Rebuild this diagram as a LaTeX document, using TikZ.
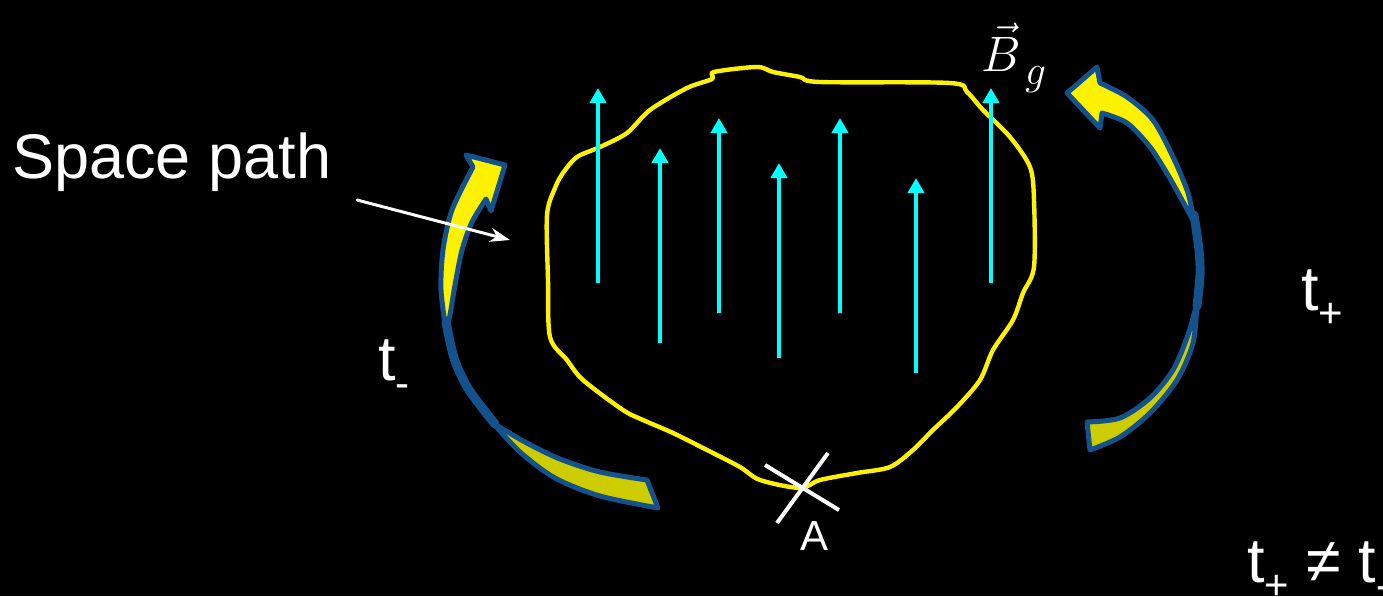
\documentclass[tikz,border=0pt]{standalone}
\usepackage{fontspec}
\setmainfont{Liberation Sans}
\usetikzlibrary{arrows.meta}
\definecolor{bandblue}{RGB}{20,82,142}
\definecolor{darkyel}{RGB}{204,204,0}
\definecolor{fieldcyan}{RGB}{0,255,255}
\newcommand\tsub[1]{\raisebox{-8.5pt}{\fontsize{21}{24}\selectfont #1}}
\begin{document}
\begin{tikzpicture}[x=0.5pt, y=-0.5pt, line join=round, line cap=round, >=Stealth,
	field/.style={fieldcyan, line width=2pt, line cap=butt, -{Triangle[width=8pt,length=7.5pt]}},
	fold/.style={draw=bandblue, line width=2.5pt},
	lbl/.style={text=white, inner sep=0pt, font=\fontsize{31.5}{36}\selectfont}]
	\useasboundingbox (0,0) rectangle (1383,596);
	\fill[black] (0,0) rectangle (1383,596);
	% space path
	\draw[yellow, line width=2.2pt] plot[smooth cycle, tension=0.5] coordinates {(547,215) (555,188) (563,173) (577,157) (600,147) (627,133) (650,110) (687,88) (712,79) (714,72) (757,67) (773,72) (800,77) (820,82) (950,83) (967,92) (983,110) (1010,137) (1030,167) (1034,200) (1034,267) (1023,293) (1013,320) (993,350) (980,380) (957,407) (933,430) (913,450) (890,467) (857,473) (820,480) (800,488) (760,480) (740,467) (707,450) (673,433) (643,420) (623,410) (583,380) (567,360) (550,337) (548,280)};
	% field lines
	\foreach \x/\y in {598/88, 660/148, 719/118, 779/163, 840/118, 916/178, 991/88}
		\draw[field] (\x,\y+195) -- (\x,\y);
	% left curved arrow
	\draw[bandblue, line width=4.5pt] plot[smooth] coordinates {(446,322) (454,358) (466,385) (480,405) (495,424)};
	\draw[fold, fill=darkyel] plot[smooth] coordinates {(493,423) (520,452) (555,478) (600,496) (658,508)} -- (647,480) -- plot[smooth] coordinates {(647,480) (600,472) (560,459) (525,442) (493,423)} -- cycle;
	\draw[fold, fill=yellow] plot[smooth] coordinates {(446,330) (441,290) (443,250) (452,210) (473,167)} -- (466,155) -- (505,165) -- (491,211) -- (486,199) -- plot[smooth] coordinates {(486,199) (472,222) (462,250) (455,285) (450,315) (446,330)} -- cycle;
	% right curved arrow
	\draw[bandblue, line width=4.5pt] plot[smooth] coordinates {(1194,215) (1199,250) (1200,275) (1197,306)};
	\draw[fold, fill=darkyel] plot[smooth] coordinates {(1197,303) (1193,343) (1177,380) (1150,413) (1120,437) (1090,450)} -- (1087,422) -- plot[smooth] coordinates {(1087,422) (1120,418) (1150,398) (1173,370) (1188,335) (1197,303)} -- cycle;
	\draw[fold, fill=yellow] plot[smooth] coordinates {(1194,222) (1188,193) (1173,157) (1153,120) (1127,97) (1100,83)} -- (1097,67) -- (1067,93) -- (1100,128) -- (1102,113) -- plot[smooth] coordinates {(1102,113) (1127,123) (1150,147) (1168,175) (1182,200) (1194,222)} -- cycle;
	% labels
	\node[lbl, anchor=base west] (sp) at (12,178) {Space path};
	\coordinate (sp start) at (357,200);
	\coordinate (sp end) at (510,240);
	\draw[white, line width=1.5pt, -{Stealth[width=7pt,length=10pt]}] (sp start) -- (sp end);
	\node[lbl, anchor=base west] (tm) at (378,380) {t\tsub{-}};
	\node[lbl, anchor=base west] (tp) at (1301,310) {t\tsub{+}};
	\node[lbl, anchor=base west] (neq) at (1247,582) {t\tsub{+} ≠ t\tsub{-}};
	\node[text=white, inner sep=0pt, font=\fontsize{29}{34}\selectfont] (bg) at (1014,58) {$\vec{B}_{\,\raisebox{-3pt}{$\scriptstyle g$}}$};
	% point A
	\coordinate (a1) at (765,465);
	\coordinate (a2) at (839,510);
	\coordinate (a3) at (828,453);
	\coordinate (a4) at (777,523);
	\draw[white, line width=2pt, line cap=butt] (a1) -- (a2) (a3) -- (a4);
	\node[text=white, inner sep=0pt, anchor=base, font=\fontsize{21}{25}\selectfont] (A) at (815,550) {A};
\end{tikzpicture}
\end{document}
